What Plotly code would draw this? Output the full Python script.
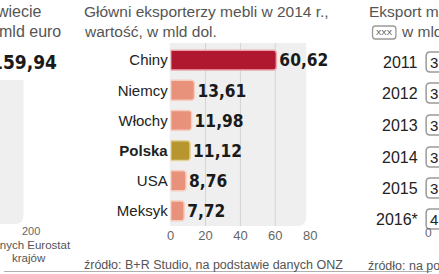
import plotly.graph_objects as go

W, H = 439, 274

# ---- data ----
countries = ["Chiny", "Niemcy", "Włochy", "Polska", "USA", "Meksyk"]
country_labels = ["Chiny", "Niemcy", "Włochy", "<b>Polska</b>", "USA", "Meksyk"]
values = [60.62, 13.61, 11.98, 11.12, 8.76, 7.72]
x_ticks = [0, 20, 40, 60, 80]
gridlines = [20, 40, 60]
years = ["2011", "2012", "2013", "2014", "2015", "2016*"]
year_box_digits = ["3", "3", "3", "3", "3", "4"]

fill_colors = ["#b0182f", "#e8917b", "#e8917b", "#b8962f", "#e8917b", "#e8917b"]
line_colors = ["#eba5ad", "#f6cdbf", "#f6cdbf", "#e4d49c", "#f6cdbf", "#f6cdbf"]

FONT = "Liberation Sans, Arial, sans-serif"
BOLDC = "DejaVu Sans Condensed, Liberation Sans Narrow, Roboto Condensed, sans-serif"


def px(x):
    return x / W


def py(y):
    return 1 - y / H


def rounded_rect(x0, y0, x1, y1, r, corners=("br",)):
    rx, ry = r / W, r / H
    X0, X1, Y0, Y1 = px(x0), px(x1), py(y0), py(y1)
    p = []
    if "tl" in corners:
        p.append(f"M {X0},{Y0 - ry} Q {X0},{Y0} {X0 + rx},{Y0}")
    else:
        p.append(f"M {X0},{Y0}")
    if "tr" in corners:
        p.append(f"L {X1 - rx},{Y0} Q {X1},{Y0} {X1},{Y0 - ry}")
    else:
        p.append(f"L {X1},{Y0}")
    if "br" in corners:
        p.append(f"L {X1},{Y1 + ry} Q {X1},{Y1} {X1 - rx},{Y1}")
    else:
        p.append(f"L {X1},{Y1}")
    if "bl" in corners:
        p.append(f"L {X0 + rx},{Y1} Q {X0},{Y1} {X0},{Y1 + ry}")
    else:
        p.append(f"L {X0},{Y1}")
    p.append("Z")
    return " ".join(p)


fig = go.Figure()
fig.add_trace(go.Bar(
    x=values, y=countries, orientation="h",
    marker=dict(color=fill_colors, line=dict(color=line_colors, width=1.5), cornerradius=3),
    width=0.66,
    text=values, texttemplate="<b>%{x:.2f}</b>", textposition="outside",
    textfont=dict(family=BOLDC, size=19, color="#1a1a1a"),
    cliponaxis=False, hoverinfo="skip",
))

shapes = []
shapes.append(dict(type="path", xref="paper", yref="paper", layer="below",
                   path=rounded_rect(170, 43, 310, 226, 9, ("br",)),
                   fillcolor="#efefef", line=dict(width=0)))
shapes.append(dict(type="path", xref="paper", yref="paper", layer="below",
                   path=rounded_rect(-10, 80, 20, 224, 9, ("br",)),
                   fillcolor="#efefef", line=dict(width=0)))
for g in gridlines:
    shapes.append(dict(type="line", xref="x", yref="paper", layer="below",
                       x0=g, x1=g, y0=py(226), y1=py(43),
                       line=dict(color="#d4d4d4", width=1)))
shapes.append(dict(type="line", xref="paper", yref="paper", x0=0, x1=1,
                   y0=py(271.5), y1=py(271.5), line=dict(color="#b0b0b0", width=1)))
shapes.append(dict(type="path", xref="paper", yref="paper",
                   path=rounded_rect(378, 26, 402, 39, 3, ("tl", "tr", "br", "bl")),
                   fillcolor="rgba(0,0,0,0)", line=dict(color="#999999", width=1.3)))
year_y = [62, 93, 125, 157, 188, 219]
for yy in year_y:
    shapes.append(dict(type="path", xref="paper", yref="paper",
                       path=rounded_rect(433, yy - 10, 470, yy + 10, 4, ("tl", "tr", "br", "bl")),
                       fillcolor="rgba(0,0,0,0)", line=dict(color="#9a9a9a", width=1.5)))

ann = []


def T(text, x, y, size=16, color="#555555", anchor="left", family=FONT):
    ann.append(dict(text=text, x=px(x), y=py(y), xref="paper", yref="paper",
                    xanchor=anchor, yanchor="middle", showarrow=False, borderpad=0,
                    font=dict(family=family, size=size, color=color)))


# left panel
T("świecie", 40, 12, anchor="right")
T("w mld euro", 60, 32, anchor="right")
T("<b>159,94</b>", 55, 62, size=19, color="#1a1a1a", anchor="right", family=BOLDC)
T("200", 28, 231, size=11, color="#666666", anchor="center")
T("danych Eurostat", 70, 245, size=11.5, color="#555555", anchor="right")
T("krajów", 44, 257.5, size=11.5, color="#555555", anchor="right")
# middle panel
T("Główni eksporterzy mebli w 2014 r.,", 81, 12, size=15.5)
T("wartość, w mld dol.", 81, 32, size=15.5)
T("źródło: B+R Studio, na podstawie danych ONZ", 81, 265, size=12.5)
# right panel
T("Eksport mebli", 373, 12, size=15.5)
T("XXX", 390, 32.5, size=8, color="#444444", anchor="center")
T("w mld", 406, 32, size=15.5)
for yr, yy, d in zip(years, year_y, year_box_digits):
    T(yr, 426, yy, size=16, color="#222222", anchor="right")
    T(d, 436, yy, size=15, color="#222222", anchor="left")
T("0", 435, 233, size=12, color="#666666", anchor="center")
T("źródło: na podstawie", 372, 266, size=12.5)

fig.update_layout(
    width=W, height=H, margin=dict(l=0, r=0, t=0, b=0),
    paper_bgcolor="white", plot_bgcolor="rgba(0,0,0,0)",
    separators=", ", showlegend=False, barcornerradius=3,
    shapes=shapes, annotations=ann,
    xaxis=dict(domain=[px(171), px(314)], range=[0, 80], tickvals=x_ticks,
               showgrid=False, zeroline=False, showline=False, ticks="",
               tickfont=dict(family=FONT, size=13, color="#666666"),
               fixedrange=True),
    yaxis=dict(domain=[py(226), py(45)], autorange="reversed",
               tickvals=countries, ticktext=country_labels,
               showgrid=False, zeroline=False, showline=False, ticks="",
               tickfont=dict(family=FONT, size=15, color="#222222"),
               ticklabelstandoff=2, fixedrange=True),
)

fig.write_html("out.html", config={"displayModeBar": False})
